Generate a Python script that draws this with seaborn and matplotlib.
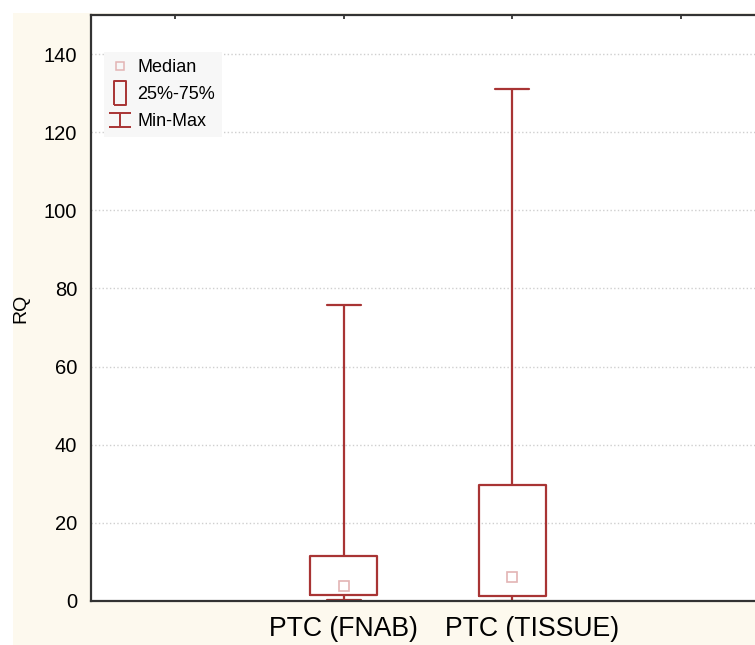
import pandas as pd
import seaborn as sns
import matplotlib.pyplot as plt
import matplotlib.transforms as mtransforms
from matplotlib.lines import Line2D
from matplotlib.patches import Rectangle
from matplotlib.path import Path

groups = ['PTC (FNAB)', 'PTC (TISSUE)']
rq_min = [0.2, 0.1]
rq_q1 = [1.5, 1.4]
rq_median = [3.9, 6.1]
rq_q3 = [11.5, 29.6]
rq_max = [75.8, 131.0]

yticks = [0, 20, 40, 60, 80, 100, 120, 140]

# five summary values per group -> boxplot with whis=(0,100) reproduces min/q1/median/q3/max
rows = []
for i, g in enumerate(groups):
    for v in (rq_min[i], rq_q1[i], rq_median[i], rq_q3[i], rq_max[i]):
        rows.append({'group': g, 'RQ': v})
df = pd.DataFrame(rows)

red = '#a83434'
pink = '#e3b4b4'
cream = '#fdf9ee'

sns.set_style('white')
plt.rcParams['font.family'] = ['Liberation Sans', 'DejaVu Sans']
plt.rcParams['text.color'] = 'black'
plt.rcParams['axes.labelcolor'] = 'black'
plt.rcParams['xtick.color'] = 'black'
plt.rcParams['ytick.color'] = 'black'

fig = plt.figure(figsize=(7.55, 6.45), dpi=100)
fig.patch.set_facecolor('white')
fig.patches.append(Rectangle((13 / 755, 0), 1, 1 - 13 / 645, transform=fig.transFigure,
                             facecolor=cream, edgecolor='none', zorder=-10))
ax = fig.add_axes([91 / 755, 44 / 645, 674 / 755, 586 / 645])
ax.set_facecolor('white')

sns.boxplot(data=df, x='group', y='RQ', whis=(0, 100), width=0.4, fill=False,
            color=red, linewidth=1.6, medianprops={'visible': False},
            showfliers=False, ax=ax)
sns.pointplot(x=groups, y=rq_median, linestyle='none', marker='s', color=pink,
              markerfacecolor='none', markeredgecolor=pink, markersize=7,
              markeredgewidth=1.2, errorbar=None, ax=ax)

ax.set_xlim(-1.5, 2.5)
ax.set_ylim(0, 150)
ax.set_xticks([-1, 0, 1, 2])
ax.set_xticklabels(['', groups[0], groups[1], ''], fontsize=19.2)
ax.set_yticks(yticks)
ax.set_yticklabels([str(t) for t in yticks], fontsize=14.5)
ax.tick_params(axis='both', direction='in', length=3, width=1.2, color='#222222',
               top=True, pad=10)
ax.tick_params(axis='x', pad=11)
ax.set_xlabel('')
ax.set_ylabel('RQ', fontsize=14, labelpad=10)
ax.yaxis.grid(True, linestyle=':', color='#cfcfcf', linewidth=1)
ax.xaxis.grid(False)
for side in ['left', 'top', 'bottom']:
    ax.spines[side].set_visible(True)
    ax.spines[side].set_color('#333333')
    ax.spines[side].set_linewidth(1.6)
ax.spines['right'].set_visible(False)

# the second category label sits a bit right of its tick in the original
lbl = ax.get_xticklabels()[2]
lbl.set_transform(lbl.get_transform() + mtransforms.ScaledTranslation(0.2, 0, fig.dpi_scale_trans))

rect_marker = Path([(-0.5, -1), (0.5, -1), (0.5, 1), (-0.5, 1), (-0.5, -1)])
ibeam = Path([(-1, 0.6), (1, 0.6), (0, 0.6), (0, -0.6), (-1, -0.6), (1, -0.6)],
             [Path.MOVETO, Path.LINETO, Path.MOVETO, Path.LINETO, Path.MOVETO, Path.LINETO])
handles = [
    Line2D([], [], linestyle='none', marker='s', markersize=6, markerfacecolor='none',
           markeredgecolor=pink, markeredgewidth=1.1),
    Line2D([], [], linestyle='none', marker=rect_marker, markersize=17, markerfacecolor='none',
           markeredgecolor=red, markeredgewidth=1.4),
    Line2D([], [], linestyle='none', marker=ibeam, markersize=16, markerfacecolor='none',
           markeredgecolor=red, markeredgewidth=1.4),
]
leg = ax.legend(handles, ['Median', '25%-75%', 'Min-Max'], loc='upper left',
                bbox_to_anchor=(0.006, 0.952), fontsize=13, frameon=True,
                handlelength=1.0, handletextpad=0.45, labelspacing=0.55,
                borderpad=0.4, fancybox=False)
leg.get_frame().set_facecolor('#f7f7f7')
leg.get_frame().set_edgecolor('none')
leg.get_frame().set_alpha(1)

plt.savefig('out.png', dpi=100, facecolor=fig.get_facecolor())
